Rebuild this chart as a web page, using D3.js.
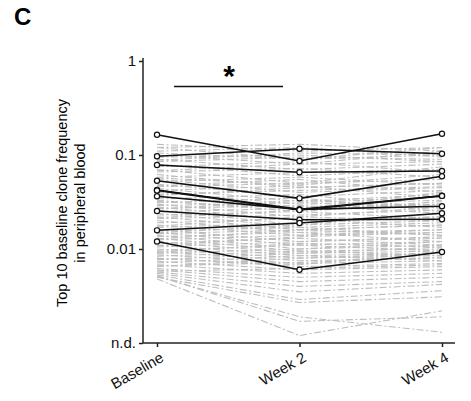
<!DOCTYPE html>
<html lang="en">
<head>
<meta charset="UTF-8">
<title>Top 10 baseline clone frequency</title>
<script src="https://cdnjs.cloudflare.com/ajax/libs/d3/7.8.5/d3.min.js"></script>
<style>
	body { margin: 0; background: #fff; font-family: "Liberation Sans", Arial, sans-serif; }
	.axis path, .axis line { stroke: #222; stroke-width: 1.5; fill: none; }
</style>
</head>
<body>
<div id="chart"></div>
<script>
	const timepoints = ["Baseline", "Week 2", "Week 4"];
	const yTicks = [0.001, 0.01, 0.1, 1];
	const yTickLabels = ["n.d.", "0.01", "0.1", "1"];

	// top 10 clones (black), frequency at baseline, week 2, week 4
	const topClones = [
		[0.164, 0.0863, 0.1686],
		[0.0969, 0.1167, 0.1032],
		[0.0783, 0.0655, 0.0676],
		[0.0533, 0.0346, 0.0593],
		[0.0424, 0.0264, 0.0369],
		[0.0364, 0.0264, 0.0285],
		[0.0254, 0.0205, 0.0207],
		[0.0158, 0.0189, 0.0240],
		[0.0120, 0.00602, 0.00929],
		[0.0420, 0.0260, 0.0367]
	];

	// other clones (grey dash-dot)
	const otherClones = [
		[0.13, 0.11, 0.12], [0.12, 0.09, 0.10], [0.11, 0.12, 0.095], [0.10, 0.08, 0.11],
		[0.095, 0.10, 0.085], [0.09, 0.07, 0.08], [0.085, 0.095, 0.09], [0.08, 0.06, 0.07],
		[0.075, 0.085, 0.065], [0.07, 0.05, 0.075], [0.066, 0.072, 0.058], [0.062, 0.045, 0.05],
		[0.058, 0.065, 0.07], [0.055, 0.04, 0.045], [0.052, 0.058, 0.048], [0.049, 0.036, 0.042],
		[0.046, 0.05, 0.055], [0.044, 0.032, 0.038], [0.042, 0.047, 0.035], [0.04, 0.03, 0.033],
		[0.038, 0.042, 0.046], [0.036, 0.028, 0.03], [0.034, 0.038, 0.027], [0.033, 0.025, 0.032],
		[0.031, 0.035, 0.025], [0.03, 0.022, 0.028], [0.029, 0.031, 0.036], [0.028, 0.02, 0.022],
		[0.027, 0.029, 0.024], [0.026, 0.018, 0.02], [0.025, 0.027, 0.03], [0.024, 0.017, 0.019],
		[0.023, 0.025, 0.021], [0.022, 0.016, 0.018], [0.021, 0.023, 0.026], [0.02, 0.015, 0.016],
		[0.019, 0.021, 0.017], [0.018, 0.014, 0.015], [0.017, 0.019, 0.022], [0.016, 0.012, 0.013],
		[0.0155, 0.017, 0.014], [0.015, 0.011, 0.012], [0.0145, 0.016, 0.018], [0.014, 0.01, 0.011],
		[0.0135, 0.015, 0.012], [0.013, 0.0095, 0.01], [0.0125, 0.014, 0.016], [0.012, 0.009, 0.0095],
		[0.0115, 0.013, 0.011], [0.011, 0.0085, 0.009], [0.0105, 0.012, 0.0135], [0.01, 0.008, 0.0085],
		[0.0097, 0.011, 0.0095], [0.0094, 0.0075, 0.008], [0.009, 0.01, 0.012], [0.0087, 0.007, 0.0075],
		[0.0084, 0.0095, 0.0085], [0.008, 0.0065, 0.007], [0.0077, 0.009, 0.0105], [0.0074, 0.006, 0.0065],
		[0.0071, 0.0085, 0.0075], [0.0068, 0.0055, 0.006], [0.0065, 0.008, 0.009], [0.0062, 0.005, 0.0055],
		[0.006, 0.0045, 0.005], [0.0057, 0.004, 0.0045], [0.0055, 0.0035, 0.0042], [0.0053, 0.0029, 0.0036],
		[0.005, 0.0027, 0.0031], [0.0052, 0.0017, 0.0019], [0.0048, 0.0012, 0.0022], [0.0051, 0.0019, 0.0013],
		[0.12, 0.13, 0.11], [0.105, 0.09, 0.12], [0.088, 0.105, 0.1], [0.068, 0.08, 0.085],
		[0.057, 0.048, 0.062], [0.047, 0.055, 0.04], [0.037, 0.045, 0.05], [0.032, 0.027, 0.04],
		[0.0265, 0.033, 0.028], [0.0215, 0.026, 0.03], [0.0175, 0.022, 0.02], [0.0148, 0.018, 0.024],
		[0.0128, 0.016, 0.014], [0.0108, 0.0135, 0.015], [0.0092, 0.0115, 0.0105], [0.0079, 0.0068, 0.0095],
		[0.0066, 0.0072, 0.0082], [0.0058, 0.0062, 0.0068]
	];

	const width = 471, height = 401;
	const svg = d3.select("#chart").append("svg")
		.attr("width", width)
		.attr("height", height);

	const x = d3.scalePoint().domain(timepoints).range([157, 442]);
	const y = d3.scaleLog().domain([0.001, 1]).range([343, 61]);

	const line = d3.line()
		.x((d, i) => x(timepoints[i]))
		.y(d => y(d));

	// grey clones
	svg.append("g").selectAll("path")
		.data(otherClones)
		.enter().append("path")
		.attr("d", line)
		.attr("fill", "none")
		.attr("stroke", "#bdbdbd")
		.attr("stroke-width", 1.1)
		.attr("stroke-dasharray", "7,2.5,2,2.5");

	// top 10 clones
	svg.append("g").selectAll("path")
		.data(topClones)
		.enter().append("path")
		.attr("d", line)
		.attr("fill", "none")
		.attr("stroke", "#111")
		.attr("stroke-width", 1.6);

	const pts = [];
	topClones.forEach(c => c.forEach((v, i) => pts.push({ t: timepoints[i], v })));
	svg.append("g").selectAll("circle")
		.data(pts)
		.enter().append("circle")
		.attr("cx", d => x(d.t))
		.attr("cy", d => y(d.v))
		.attr("r", 2.6)
		.attr("fill", "#fff")
		.attr("stroke", "#111")
		.attr("stroke-width", 1.2);

	// axes
	const yAxis = svg.append("g")
		.attr("class", "axis")
		.attr("transform", "translate(143,0)")
		.call(d3.axisLeft(y).tickValues(yTicks).tickFormat((d, i) => yTickLabels[i]).tickSize(4).tickPadding(3).tickSizeOuter(0));
	yAxis.select(".domain").attr("d", `M0,${y(1) - 3}V${y(0.001)}`);
	yAxis.selectAll("text")
		.style("font-size", "15px")
		.style("font-family", "'Liberation Sans', Arial, sans-serif")
		.attr("fill", "#111");

	const xAxis = svg.append("g")
		.attr("class", "axis")
		.attr("transform", "translate(0,343)")
		.call(d3.axisBottom(x).tickSize(4).tickSizeOuter(0));
	xAxis.select(".domain").attr("d", "M143,0H455");
	xAxis.selectAll("text")
		.style("font-size", "15px")
		.style("font-family", "'Liberation Sans', Arial, sans-serif")
		.attr("fill", "#111")
		.attr("text-anchor", "end")
		.attr("dy", "0.35em")
		.attr("transform", "translate(1,7) rotate(-30)");

	// y label
	svg.append("text")
		.attr("transform", "translate(67,203) rotate(-90)")
		.attr("text-anchor", "middle")
		.style("font-size", "14.5px")
		.text("Top 10 baseline clone frequency");
	svg.append("text")
		.attr("transform", "translate(85,203) rotate(-90)")
		.attr("text-anchor", "middle")
		.style("font-size", "14.5px")
		.text("in peripheral blood");

	// significance bar
	svg.append("line")
		.attr("x1", 174).attr("x2", 283)
		.attr("y1", 86.5).attr("y2", 86.5)
		.attr("stroke", "#111").attr("stroke-width", 1.5);
	svg.append("text")
		.attr("x", 229).attr("y", 86)
		.attr("text-anchor", "middle")
		.style("font-size", "30px")
		.style("font-weight", "bold")
		.text("*");

	// panel letter
	svg.append("text")
		.attr("x", 14).attr("y", 25)
		.style("font-size", "24px")
		.style("font-weight", "bold")
		.text("C");
</script>
</body>
</html>
